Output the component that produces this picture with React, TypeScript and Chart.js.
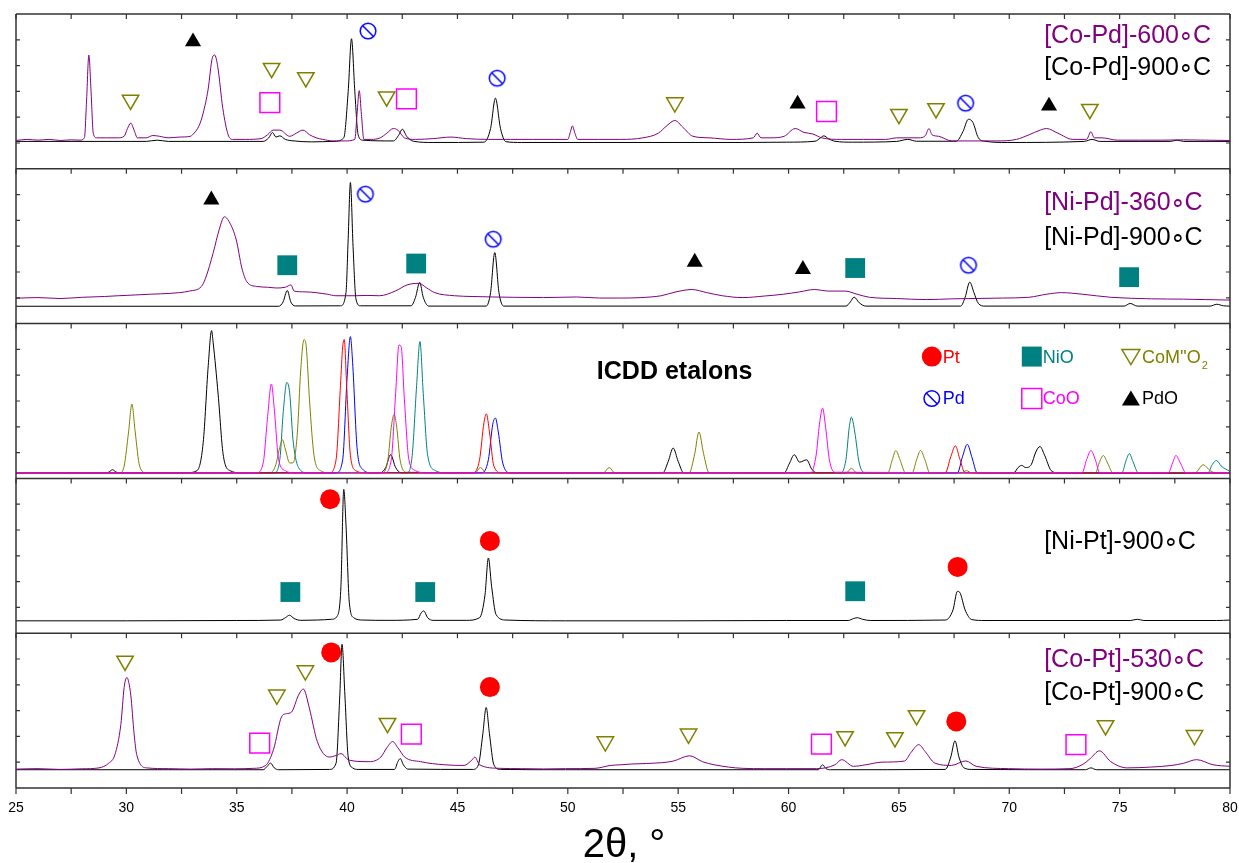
import React, { useEffect, useRef } from 'react';
import { Chart, registerables } from 'chart.js';

Chart.register(...registerables);

type P = [number, number];
type M = [number, number, number]; // [panel (0 = top), 2theta, height within panel]

// ---------- axis ----------
const X_MIN = 25;
const X_MAX = 80;
const X_STEP = 2.5;
const X_LABEL_STEP = 5;
const PANELS = 5;

// ---------- panel 1: [Co-Pd] ----------
const coPd600: P[] = [[25,0.183],[25.5,0.19],[26,0.185],[26.5,0.19],[27,0.183],[27.5,0.187],[27.9,0.185],[28.1,0.2],[28.2,0.45],[28.3,0.735],[28.4,0.5],[28.5,0.23],[28.65,0.2],[29.1,0.2],[29.6,0.2],[29.9,0.21],[30.05,0.26],[30.2,0.295],[30.35,0.25],[30.5,0.2],[30.9,0.2],[31.2,0.215],[31.5,0.21],[31.9,0.2],[32.4,0.205],[32.9,0.21],[33.0,0.22],[33.3,0.28],[33.48,0.36],[33.7,0.51],[33.9,0.72],[34.0,0.735],[34.14,0.66],[34.37,0.39],[34.61,0.22],[34.82,0.19],[35.4,0.19],[36.1,0.195],[36.4,0.22],[36.65,0.25],[36.95,0.25],[37.4,0.21],[37.7,0.23],[38.0,0.25],[38.3,0.22],[38.6,0.2],[38.9,0.19],[39.36,0.18],[39.9,0.18],[40.35,0.19],[40.45,0.35],[40.55,0.505],[40.65,0.35],[40.76,0.19],[41.1,0.19],[41.5,0.2],[41.8,0.23],[42.09,0.26],[42.3,0.25],[42.6,0.2],[43.1,0.19],[43.9,0.195],[44.7,0.205],[45.4,0.195],[46.4,0.19],[47.4,0.19],[48.4,0.19],[49.4,0.19],[50.0,0.19],[50.12,0.24],[50.21,0.277],[50.32,0.23],[50.45,0.19],[51.4,0.19],[52.4,0.19],[53.4,0.2],[54.1,0.23],[54.5,0.28],[54.85,0.312],[55.2,0.27],[55.67,0.21],[56.4,0.2],[57.4,0.19],[58.4,0.2],[58.58,0.23],[58.75,0.2],[59.2,0.2],[59.8,0.21],[60.3,0.26],[60.7,0.235],[61.1,0.225],[61.5,0.2],[62.4,0.19],[63.4,0.19],[64.4,0.19],[64.9,0.2],[65.4,0.2],[65.9,0.2],[66.2,0.215],[66.36,0.26],[66.5,0.22],[66.8,0.21],[67.4,0.18],[68.4,0.18],[69.4,0.18],[70.33,0.19],[70.9,0.22],[71.4,0.25],[71.69,0.26],[72.2,0.23],[72.88,0.19],[73.5,0.19],[73.7,0.24],[73.85,0.2],[74.2,0.2],[74.9,0.185],[75.9,0.185],[76.9,0.185],[77.9,0.187],[78.9,0.185],[80,0.183]];
const coPd900: P[] = [[25,0.177],[30.9,0.177],[31.4,0.185],[31.9,0.177],[36.2,0.177],[36.45,0.2],[36.62,0.234],[36.78,0.205],[36.95,0.213],[37.2,0.19],[37.6,0.18],[38.4,0.174],[39.4,0.177],[39.85,0.2],[40.05,0.5],[40.2,0.84],[40.35,0.5],[40.5,0.22],[40.7,0.185],[42.1,0.18],[42.35,0.22],[42.5,0.256],[42.7,0.21],[43.0,0.178],[43.9,0.17],[46.2,0.172],[46.5,0.26],[46.72,0.456],[46.95,0.26],[47.2,0.175],[47.9,0.17],[54.9,0.17],[57.9,0.17],[59.9,0.172],[61.2,0.178],[61.45,0.2],[61.6,0.213],[61.8,0.195],[62.1,0.178],[62.9,0.172],[64.9,0.177],[65.4,0.19],[65.8,0.178],[67.6,0.178],[67.9,0.24],[68.15,0.32],[68.35,0.3],[68.6,0.2],[68.9,0.178],[69.9,0.17],[73.4,0.177],[73.75,0.19],[74.1,0.177],[77.3,0.177],[77.6,0.185],[77.9,0.177],[80,0.177]];

// ---------- panel 2: [Ni-Pd] ----------
const niPd360: P[] = [[25,0.164],[26,0.168],[27,0.162],[28,0.17],[29,0.175],[29.64,0.18],[30.4,0.185],[31.1,0.19],[31.97,0.195],[32.4,0.2],[32.86,0.21],[33.4,0.24],[33.58,0.29],[33.94,0.46],[34.21,0.61],[34.44,0.69],[34.65,0.66],[34.98,0.54],[35.23,0.36],[35.46,0.27],[35.9,0.24],[36.4,0.235],[36.8,0.23],[37.2,0.235],[37.46,0.25],[37.6,0.21],[38.1,0.205],[38.59,0.2],[39.1,0.19],[39.49,0.18],[40.38,0.18],[40.9,0.182],[41.46,0.18],[42.18,0.21],[42.72,0.25],[43.25,0.26],[43.61,0.23],[43.97,0.2],[44.86,0.18],[45.7,0.175],[46.6,0.172],[47.55,0.17],[48.9,0.168],[50.4,0.172],[51.45,0.165],[52.4,0.165],[53.31,0.168],[54.23,0.18],[54.9,0.205],[55.62,0.22],[56.3,0.2],[57.0,0.18],[57.93,0.168],[58.9,0.178],[59.78,0.19],[60.5,0.205],[61.17,0.22],[61.82,0.21],[62.56,0.21],[63.1,0.19],[63.67,0.17],[64.9,0.162],[66.26,0.155],[67.4,0.16],[68.4,0.162],[69.7,0.165],[70.89,0.17],[71.7,0.19],[72.37,0.2],[73.3,0.19],[74.6,0.17],[76.45,0.16],[77.9,0.158],[78.9,0.155],[80,0.152]];
const niPd900: P[] = [[25,0.112],[36.9,0.112],[37.1,0.14],[37.29,0.214],[37.45,0.14],[37.65,0.114],[39.7,0.115],[39.95,0.2],[40.05,0.55],[40.15,0.911],[40.27,0.5],[40.4,0.16],[40.6,0.115],[42.9,0.115],[43.1,0.17],[43.29,0.266],[43.45,0.17],[43.7,0.113],[46.3,0.113],[46.5,0.2],[46.69,0.459],[46.88,0.2],[47.1,0.113],[62.6,0.113],[62.8,0.14],[62.97,0.171],[63.2,0.135],[63.5,0.113],[67.8,0.113],[68.0,0.17],[68.21,0.268],[68.4,0.2],[68.6,0.13],[68.9,0.113],[75.2,0.113],[75.48,0.13],[75.8,0.113],[79.1,0.113],[79.4,0.125],[79.7,0.115],[80,0.113]];

// ---------- panel 3: ICDD etalons ----------
const icddPdO: P[] = [[25,0.034],[29.1,0.034],[29.25,0.045],[29.37,0.056],[29.5,0.045],[29.65,0.034],[32.7,0.036],[33.2,0.05],[33.48,0.23],[33.71,0.73],[33.86,0.955],[33.93,0.88],[34.16,0.54],[34.38,0.16],[34.7,0.05],[35.2,0.036],[41.5,0.036],[41.75,0.07],[41.97,0.153],[42.2,0.07],[42.45,0.036],[54.3,0.036],[54.55,0.11],[54.77,0.196],[55.0,0.11],[55.25,0.036],[59.8,0.036],[60.05,0.1],[60.26,0.153],[60.5,0.105],[60.82,0.12],[61.05,0.06],[61.3,0.036],[70.2,0.036],[70.4,0.07],[70.56,0.084],[70.75,0.07],[71.0,0.09],[71.2,0.17],[71.39,0.206],[71.6,0.15],[71.9,0.05],[72.2,0.036],[80,0.034]];
const icddCoM2O2: P[] = [[25,0.034],[29.7,0.036],[29.9,0.08],[30.1,0.3],[30.25,0.48],[30.4,0.3],[30.6,0.08],[30.9,0.036],[36.5,0.036],[36.75,0.08],[36.95,0.2],[37.07,0.25],[37.2,0.19],[37.4,0.1],[37.55,0.1],[37.75,0.3],[37.9,0.7],[38.05,0.897],[38.15,0.85],[38.3,0.5],[38.5,0.15],[38.8,0.05],[39.2,0.036],[41.6,0.036],[41.85,0.12],[42.0,0.33],[42.13,0.413],[42.25,0.33],[42.4,0.12],[42.7,0.04],[45.8,0.036],[46.04,0.07],[46.3,0.036],[51.6,0.034],[51.87,0.07],[52.15,0.034],[55.5,0.036],[55.75,0.16],[55.94,0.3],[56.15,0.16],[56.4,0.036],[62.6,0.034],[62.85,0.065],[63.1,0.034],[64.5,0.036],[64.7,0.12],[64.86,0.18],[65.05,0.12],[65.3,0.036],[65.6,0.036],[65.8,0.12],[65.98,0.18],[66.18,0.12],[66.4,0.036],[67.8,0.034],[68.06,0.05],[68.3,0.034],[73.9,0.036],[74.1,0.11],[74.26,0.148],[74.45,0.1],[74.7,0.036],[78.4,0.034],[78.79,0.088],[79.1,0.05],[79.4,0.034],[80,0.034]];
const icddCoO: P[] = [[25,0.034],[35.9,0.036],[36.2,0.1],[36.4,0.4],[36.57,0.61],[36.7,0.45],[36.9,0.12],[37.2,0.05],[37.6,0.036],[41.7,0.036],[42.0,0.12],[42.2,0.55],[42.35,0.862],[42.45,0.85],[42.6,0.5],[42.8,0.12],[43.1,0.05],[43.5,0.036],[61.0,0.036],[61.25,0.15],[61.4,0.35],[61.54,0.454],[61.68,0.33],[61.85,0.12],[62.1,0.04],[73.3,0.036],[73.5,0.12],[73.7,0.18],[73.9,0.12],[74.1,0.036],[77.2,0.036],[77.4,0.1],[77.55,0.148],[77.75,0.1],[78.0,0.036],[80,0.034]];
const icddNiO: P[] = [[25,0.034],[36.7,0.036],[36.95,0.12],[37.12,0.45],[37.27,0.62],[37.4,0.55],[37.55,0.25],[37.8,0.07],[38.2,0.036],[42.7,0.036],[42.95,0.15],[43.15,0.6],[43.3,0.884],[43.45,0.55],[43.65,0.15],[44.0,0.05],[44.5,0.036],[62.35,0.036],[62.6,0.12],[62.75,0.33],[62.85,0.396],[63.0,0.3],[63.2,0.1],[63.5,0.036],[75.1,0.036],[75.3,0.12],[75.44,0.16],[75.6,0.11],[75.85,0.036],[79.0,0.036],[79.2,0.09],[79.39,0.116],[79.6,0.08],[80,0.045]];
const icddPt: P[] = [[25,0.034],[39.2,0.036],[39.5,0.12],[39.7,0.6],[39.8,0.85],[39.87,0.897],[39.98,0.6],[40.15,0.15],[40.4,0.05],[40.8,0.036],[45.7,0.036],[46.0,0.12],[46.2,0.36],[46.31,0.417],[46.45,0.3],[46.65,0.08],[47.0,0.036],[67.1,0.036],[67.35,0.14],[67.56,0.21],[67.75,0.13],[68.0,0.036],[80,0.034]];
const icddPd: P[] = [[25,0.034],[39.5,0.036],[39.8,0.12],[40.0,0.65],[40.15,0.916],[40.25,0.75],[40.45,0.2],[40.7,0.06],[41.1,0.036],[46.1,0.036],[46.4,0.12],[46.6,0.35],[46.72,0.39],[46.85,0.3],[47.05,0.1],[47.4,0.036],[67.65,0.036],[67.88,0.14],[68.1,0.22],[68.3,0.14],[68.55,0.036],[80,0.034]];

// ---------- panel 4: [Ni-Pt] ----------
const niPt900: P[] = [[25,0.08],[30,0.08],[35,0.082],[37.0,0.085],[37.2,0.1],[37.39,0.116],[37.6,0.095],[37.9,0.083],[38.65,0.085],[39.3,0.09],[39.55,0.11],[39.72,0.3],[39.85,0.929],[39.95,0.7],[40.1,0.2],[40.3,0.1],[40.7,0.085],[41.9,0.083],[43.2,0.09],[43.35,0.13],[43.47,0.144],[43.65,0.1],[43.9,0.083],[45.4,0.083],[46.0,0.1],[46.25,0.25],[46.4,0.486],[46.55,0.3],[46.75,0.12],[47.2,0.085],[49.9,0.08],[54.9,0.08],[59.9,0.082],[62.7,0.082],[62.95,0.095],[63.12,0.1],[63.35,0.09],[63.7,0.082],[67.1,0.085],[67.45,0.15],[67.65,0.27],[67.75,0.265],[68.0,0.15],[68.3,0.088],[68.9,0.082],[75.5,0.082],[75.8,0.09],[76.1,0.082],[79.4,0.082],[80,0.085]];

// ---------- panel 5: [Co-Pt] ----------
const coPt530: P[] = [[25,0.122],[26,0.125],[27,0.12],[28,0.124],[28.76,0.13],[29.2,0.16],[29.48,0.215],[29.75,0.41],[29.9,0.65],[30.02,0.714],[30.2,0.6],[30.35,0.35],[30.47,0.215],[30.92,0.13],[31.9,0.125],[32.9,0.122],[33.9,0.125],[34.9,0.124],[35.77,0.127],[36.31,0.146],[36.67,0.25],[37.03,0.46],[37.25,0.48],[37.48,0.49],[37.8,0.6],[38.02,0.639],[38.29,0.516],[38.65,0.3],[39.19,0.2],[39.5,0.21],[39.72,0.222],[40.09,0.18],[40.99,0.17],[41.53,0.2],[41.8,0.26],[42.07,0.3],[42.3,0.26],[42.61,0.2],[43.33,0.17],[44.4,0.15],[45.3,0.146],[45.65,0.18],[45.79,0.2],[46.0,0.15],[46.92,0.127],[47.9,0.125],[48.9,0.123],[49.9,0.125],[51.23,0.127],[51.95,0.146],[52.4,0.15],[52.9,0.155],[54.23,0.163],[54.78,0.174],[55.52,0.208],[56.1,0.17],[56.63,0.15],[57.93,0.127],[58.9,0.125],[59.9,0.125],[61.27,0.125],[62.1,0.15],[62.41,0.183],[62.94,0.14],[63.5,0.15],[64.23,0.167],[65.25,0.174],[65.55,0.23],[65.9,0.28],[66.18,0.237],[66.64,0.16],[67.38,0.146],[68.03,0.175],[68.5,0.14],[69.97,0.125],[71.4,0.122],[72.75,0.125],[73.3,0.15],[73.67,0.19],[74.08,0.24],[74.6,0.17],[75.34,0.13],[76.4,0.135],[77.37,0.146],[77.9,0.16],[78.49,0.183],[79.23,0.15],[80,0.14]];
const coPt900: P[] = [[25,0.118],[36.2,0.118],[36.38,0.14],[36.53,0.161],[36.7,0.13],[36.9,0.118],[39.2,0.12],[39.5,0.16],[39.67,0.6],[39.77,0.929],[39.9,0.6],[40.05,0.2],[40.25,0.13],[40.5,0.12],[42.15,0.12],[42.3,0.17],[42.41,0.19],[42.55,0.15],[42.75,0.122],[45.7,0.12],[45.95,0.15],[46.15,0.35],[46.3,0.52],[46.45,0.35],[46.65,0.15],[46.95,0.12],[49.9,0.118],[61.35,0.118],[61.54,0.15],[61.7,0.125],[61.9,0.118],[67.1,0.12],[67.35,0.2],[67.54,0.305],[67.72,0.2],[67.95,0.13],[68.3,0.12],[73.45,0.118],[73.7,0.13],[73.95,0.118],[80,0.118]];

// ---------- phase markers ----------
const markCoM2O2: M[] = [[0,30.19,0.445],[0,36.58,0.65],[0,38.13,0.59],[0,41.79,0.466],[0,54.85,0.428],[0,65.0,0.353],[0,66.68,0.39],[0,73.65,0.385],[4,29.94,0.821],[4,36.82,0.602],[4,38.11,0.759],[4,41.83,0.419],[4,51.7,0.3],[4,55.47,0.35],[4,62.56,0.333],[4,64.82,0.327],[4,65.8,0.469],[4,74.36,0.404],[4,78.39,0.34]];
const markPdO: M[] = [[0,33.02,0.821],[0,60.41,0.419],[0,71.8,0.406],[1,33.85,0.8],[1,55.75,0.398],[1,60.65,0.35]];
const markCoO: M[] = [[0,36.5,0.428],[0,42.69,0.452],[0,61.72,0.37],[4,36.04,0.29],[4,42.91,0.348],[4,61.49,0.284],[4,73.02,0.28]];
const markPd: M[] = [[0,40.95,0.89],[0,46.8,0.585],[0,68.02,0.424],[1,40.83,0.836],[1,46.62,0.545],[1,68.15,0.377]];
const markNiO: M[] = [[1,37.29,0.377],[1,43.13,0.388],[1,63.02,0.359],[1,75.43,0.3],[3,37.43,0.266],[3,43.54,0.266],[3,63.02,0.271]];
const markPt: M[] = [[3,39.23,0.865],[3,46.47,0.596],[3,67.66,0.428],[4,39.28,0.876],[4,46.47,0.652],[4,67.6,0.43]];

// ---------- text ----------
const seriesNames = ['[Co-Pd]-600\u2218C', '[Co-Pd]-900\u2218C', '[Ni-Pd]-360\u2218C', '[Ni-Pd]-900\u2218C', '[Ni-Pt]-900\u2218C', '[Co-Pt]-530\u2218C', '[Co-Pt]-900\u2218C'];
const icddTitle = 'ICDD etalons';
const legendNames = ['Pt', 'NiO', "CoM''O", 'Pd', 'CoO', 'PdO'];
const xTitle = '2\u03B8, \u00B0';

// ---------- styles / layout ----------
const PURPLE = '#800080';
const BLACK = '#000000';
const OLIVE = '#808000';
const MAGENTA = '#FF00FF';
const TEAL = '#008080';
const RED = '#FF0000';
const BLUE = '#0000FF';
const FRAME = '#333333';
const FONT = "'Liberation Sans', Arial, Helvetica, sans-serif";
const W = 1239;
const H = 863;

// label anchors: [name index, color, panel, height within panel]
const seriesLabelPos: [number, string, number, number][] = [
  [0, PURPLE, 0, 0.854], [1, BLACK, 0, 0.65],
  [2, PURPLE, 1, 0.777], [3, BLACK, 1, 0.55],
  [4, BLACK, 3, 0.589],
  [5, PURPLE, 4, 0.828], [6, BLACK, 4, 0.613],
];
const SERIES_LABEL_X = 71.58;
const ICDD_TITLE_POS: [number, number] = [54.84, 0.686];
const LEGEND_COLS = [66.49, 71.02, 75.51];
const LEGEND_ROWS = [0.787, 0.516];

const off = (panel: number) => PANELS - 1 - panel;

function makePdCanvas(): HTMLCanvasElement {
  const c = document.createElement('canvas');
  c.width = 20; c.height = 20;
  const g = c.getContext('2d')!;
  g.strokeStyle = BLUE; g.lineWidth = 1.5;
  g.beginPath(); g.arc(10, 10, 7.8, 0, Math.PI * 2); g.stroke();
  g.beginPath(); g.moveTo(10 - 5.5, 10 - 5.5); g.lineTo(10 + 5.5, 10 + 5.5); g.stroke();
  return c;
}

function curve(label: string, pts: P[], panel: number, color: string, order: number) {
  return {
    label,
    data: pts.map(([x, y]) => ({ x, y: y + off(panel) })),
    borderColor: color,
    backgroundColor: color,
    borderWidth: 1,
    pointRadius: 0,
    fill: false,
    cubicInterpolationMode: 'monotone' as const,
    order,
  };
}

function marks(label: string, pts: M[], style: any, radius: number, rotation: number, fillColor: string, strokeColor: string, bw: number) {
  return {
    label,
    data: pts.map(([p, x, f]) => ({ x, y: f + off(p) })),
    showLine: false,
    pointStyle: style,
    pointRadius: radius,
    pointRotation: rotation,
    pointBackgroundColor: fillColor,
    pointBorderColor: strokeColor,
    pointBorderWidth: bw,
    borderColor: strokeColor,
    backgroundColor: fillColor,
    order: 0,
  };
}

function drawLegendSymbol(ctx: CanvasRenderingContext2D, kind: number, cx: number, cy: number) {
  ctx.save();
  ctx.lineWidth = 1.5;
  ctx.beginPath();
  if (kind === 0) { ctx.fillStyle = RED; ctx.arc(cx, cy, 10, 0, Math.PI * 2); ctx.fill(); }
  else if (kind === 1) { ctx.fillStyle = TEAL; ctx.fillRect(cx - 10, cy - 10, 20, 20); }
  else if (kind === 2) { ctx.strokeStyle = OLIVE; ctx.moveTo(cx - 9, cy - 7); ctx.lineTo(cx + 9, cy - 7); ctx.lineTo(cx, cy + 8); ctx.closePath(); ctx.stroke(); }
  else if (kind === 3) { ctx.strokeStyle = BLUE; ctx.arc(cx, cy, 7.8, 0, Math.PI * 2); ctx.stroke(); ctx.beginPath(); ctx.moveTo(cx - 5.5, cy - 5.5); ctx.lineTo(cx + 5.5, cy + 5.5); ctx.stroke(); }
  else if (kind === 4) { ctx.strokeStyle = MAGENTA; ctx.strokeRect(cx - 10, cy - 10, 20, 20); }
  else { ctx.fillStyle = BLACK; ctx.moveTo(cx, cy - 8); ctx.lineTo(cx + 9, cy + 7); ctx.lineTo(cx - 9, cy + 7); ctx.closePath(); ctx.fill(); }
  ctx.restore();
}

// draws a label, setting the ring-operator degree sign tight against its neighbours
function drawDegreeText(ctx: CanvasRenderingContext2D, text: string, x: number, y: number) {
  const i = text.indexOf('\u2218');
  if (i < 0) { ctx.fillText(text, x, y); return; }
  const pre = text.slice(0, i);
  const post = text.slice(i + 1);
  ctx.fillText(pre, x, y);
  let cx = x + ctx.measureText(pre).width + 2.5;
  const m = ctx.measureText('\u2218');
  const inkL = m.actualBoundingBoxLeft || 0;
  const inkR = m.actualBoundingBoxRight || m.width;
  ctx.fillText('\u2218', cx + inkL, y);
  cx = cx + inkL + inkR + 2.5;
  ctx.fillText(post, cx, y);
}

const overlayPlugin = {
  id: 'overlay',
  afterDraw(chart: any) {
    const { ctx, chartArea: a, scales } = chart;
    const xs = scales.x, ys = scales.y;
    const tickValues: number[] = [];
    for (let v = X_MIN; v <= X_MAX + 1e-9; v += X_STEP) tickValues.push(v);
    ctx.save();
    // panel frames
    ctx.strokeStyle = FRAME;
    ctx.lineWidth = 1.5;
    ctx.beginPath();
    for (let k = 0; k <= PANELS; k++) {
      const py = ys.getPixelForValue(k);
      ctx.moveTo(a.left, py); ctx.lineTo(a.right, py);
    }
    ctx.moveTo(a.left, a.top); ctx.lineTo(a.left, a.bottom);
    ctx.moveTo(a.right, a.top); ctx.lineTo(a.right, a.bottom);
    ctx.stroke();
    // x ticks: down from each panel top, and outward below the bottom axis
    ctx.lineWidth = 1.2;
    ctx.beginPath();
    tickValues.forEach((v) => {
      const px = xs.getPixelForValue(v);
      for (let k = 1; k <= PANELS; k++) {
        const py = ys.getPixelForValue(k);
        ctx.moveTo(px, py); ctx.lineTo(px, py + 5);
      }
      ctx.moveTo(px, a.bottom); ctx.lineTo(px, a.bottom + 6);
    });
    // y ticks on both spines (inward)
    for (let k = 0; k < PANELS; k++) {
      for (let j = 1; j < 6; j++) {
        const py = ys.getPixelForValue(k + j / 6);
        ctx.moveTo(a.left, py); ctx.lineTo(a.left + 4, py);
        ctx.moveTo(a.right, py); ctx.lineTo(a.right - 4, py);
      }
    }
    ctx.stroke();

    // x tick labels
    ctx.fillStyle = BLACK;
    ctx.textAlign = 'center';
    ctx.textBaseline = 'middle';
    ctx.font = `14px ${FONT}`;
    tickValues.forEach((v) => {
      if (Math.abs(v % X_LABEL_STEP) < 1e-6) ctx.fillText(String(v), xs.getPixelForValue(v), a.bottom + 20);
    });
    // x title
    ctx.font = `40px ${FONT}`;
    ctx.fillText(xTitle, (a.left + a.right) / 2 + 1, a.bottom + 58);

    // series labels
    ctx.textAlign = 'left';
    ctx.font = `25px ${FONT}`;
    const lx = xs.getPixelForValue(SERIES_LABEL_X);
    seriesLabelPos.forEach(([i, color, panel, f]) => {
      ctx.fillStyle = color;
      drawDegreeText(ctx, seriesNames[i], lx, ys.getPixelForValue(f + off(panel)));
    });

    // ICDD title
    ctx.textAlign = 'center';
    ctx.font = `bold 25px ${FONT}`;
    ctx.fillStyle = BLACK;
    ctx.fillText(icddTitle, xs.getPixelForValue(ICDD_TITLE_POS[0]), ys.getPixelForValue(ICDD_TITLE_POS[1] + off(2)));

    // ICDD legend
    const legendColors = [RED, TEAL, OLIVE, BLUE, MAGENTA, BLACK];
    ctx.textAlign = 'left';
    legendNames.forEach((name, i) => {
      const col = i % 3, row = Math.floor(i / 3);
      const cx = xs.getPixelForValue(LEGEND_COLS[col]);
      const cy = ys.getPixelForValue(LEGEND_ROWS[row] + off(2));
      drawLegendSymbol(ctx, i, cx, cy);
      ctx.font = `18px ${FONT}`;
      ctx.fillStyle = legendColors[i];
      ctx.fillText(name, cx + 11, cy + 1);
      if (i === 2) {
        const w = ctx.measureText(name).width;
        ctx.font = `11px ${FONT}`;
        ctx.fillText('2', cx + 11 + w + 1, cy + 9);
      }
    });
    ctx.restore();
  },
};

export default function App() {
  const ref = useRef<HTMLCanvasElement>(null);
  useEffect(() => {
    const canvas = ref.current;
    if (!canvas) return;
    const pdStyle = makePdCanvas();
    const datasets: any[] = [
      marks("CoM''O2", markCoM2O2, 'triangle', 9.5, 180, 'rgba(0,0,0,0)', OLIVE, 1.5),
      marks('PdO', markPdO, 'triangle', 9.3, 0, BLACK, BLACK, 0),
      marks('CoO', markCoO, 'rect', 14, 0, 'rgba(0,0,0,0)', MAGENTA, 1.5),
      marks('Pd', markPd, pdStyle, 8, 0, 'rgba(0,0,0,0)', BLUE, 1.5),
      marks('NiO', markNiO, 'rect', 14, 0, TEAL, TEAL, 0),
      marks('Pt', markPt, 'circle', 10, 0, RED, RED, 0),
      curve('[Co-Pd]-600', coPd600, 0, PURPLE, 2),
      curve('[Co-Pd]-900', coPd900, 0, BLACK, 3),
      curve('[Ni-Pd]-360', niPd360, 1, PURPLE, 2),
      curve('[Ni-Pd]-900', niPd900, 1, BLACK, 3),
      curve('ICDD CoO', icddCoO, 2, MAGENTA, 1),
      curve('ICDD PdO', icddPdO, 2, BLACK, 4),
      curve("ICDD CoM''O2", icddCoM2O2, 2, OLIVE, 3),
      curve('ICDD NiO', icddNiO, 2, TEAL, 3),
      curve('ICDD Pt', icddPt, 2, RED, 2),
      curve('ICDD Pd', icddPd, 2, BLUE, 2),
      curve('[Ni-Pt]-900', niPt900, 3, BLACK, 3),
      curve('[Co-Pt]-530', coPt530, 4, PURPLE, 2),
      curve('[Co-Pt]-900', coPt900, 4, BLACK, 3),
    ];
    const chart = new Chart(canvas, {
      type: 'line',
      data: { datasets },
      options: {
        animation: false,
        responsive: false,
        devicePixelRatio: 1,
        layout: { autoPadding: false, padding: { left: 16, right: 9, top: 14, bottom: 75 } },
        plugins: { legend: { display: false }, tooltip: { enabled: false }, title: { display: false } },
        events: [],
        scales: {
          x: { type: 'linear', display: false, min: X_MIN, max: X_MAX },
          y: { type: 'linear', display: false, min: 0, max: PANELS },
        },
      },
      plugins: [overlayPlugin],
    } as any);
    return () => chart.destroy();
  }, []);
  return (
    <canvas
      ref={ref}
      width={W}
      height={H}
      style={{ display: 'block', position: 'fixed', left: 0, top: 0 }}
    />
  );
}
